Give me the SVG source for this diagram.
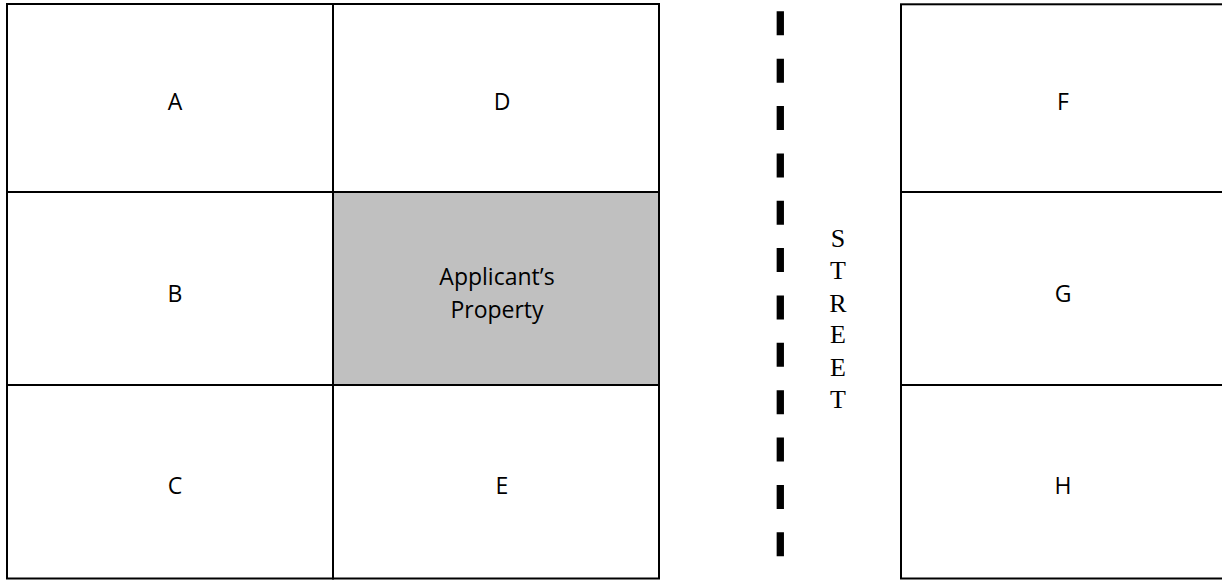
<svg xmlns="http://www.w3.org/2000/svg" width="1222" height="580" viewBox="0 0 1222 580">
  <style>
    .lot { fill: #ffffff; stroke: #000000; stroke-width: 2; }
    .subject { fill: #c0c0c0; stroke: #000000; stroke-width: 2; }
    .lbl { font-family: "Open Sans", "Liberation Sans", sans-serif; font-size: 23px; fill: #000000; text-anchor: middle; }
    .street { font-family: "Liberation Serif", "Times New Roman", serif; font-size: 26px; fill: #000000; text-anchor: middle; }
  </style>
  <rect width="1222" height="580" fill="#ffffff"/>

  <!-- west block: lots A-E -->
  <g id="lot-a"><rect class="lot" x="7" y="4" width="326" height="188"/><text class="lbl" x="175" y="110">A</text></g>
  <g id="lot-b"><rect class="lot" x="7" y="192" width="326" height="193"/><text class="lbl" x="175" y="302">B</text></g>
  <g id="lot-c"><rect class="lot" x="7" y="385" width="326" height="193.5"/><text class="lbl" x="175" y="494">C</text></g>
  <g id="lot-d"><rect class="lot" x="333" y="4" width="326" height="188"/><text class="lbl" x="502" y="110">D</text></g>
  <g id="lot-subject"><rect class="subject" x="333" y="192" width="326" height="193"/>
    <text class="lbl" x="497" y="285">Applicant’s</text>
    <text class="lbl" x="497" y="318">Property</text>
  </g>
  <g id="lot-e"><rect class="lot" x="333" y="385" width="326" height="193.5"/><text class="lbl" x="502" y="494">E</text></g>

  <!-- street centreline and name -->
  <g id="street">
    <line x1="780.3" y1="11.3" x2="780.3" y2="556.3" stroke="#000000" stroke-width="7.3" stroke-dasharray="24 23.36"/>
    <text class="street" x="838" y="246.7">S</text>
    <text class="street" x="838" y="278.7">T</text>
    <text class="street" x="838" y="311.5">R</text>
    <text class="street" x="838" y="343.3">E</text>
    <text class="street" x="838" y="375.5">E</text>
    <text class="street" x="838" y="408.3">T</text>
  </g>

  <!-- east block: lots F-H -->
  <g id="lot-f"><rect class="lot" x="901" y="4.3" width="330" height="187.7"/><text class="lbl" x="1063" y="110">F</text></g>
  <g id="lot-g"><rect class="lot" x="901" y="192" width="330" height="193"/><text class="lbl" x="1063" y="302">G</text></g>
  <g id="lot-h"><rect class="lot" x="901" y="385" width="330" height="193.5"/><text class="lbl" x="1063" y="494">H</text></g>

  <g id="connectors"></g>
</svg>
